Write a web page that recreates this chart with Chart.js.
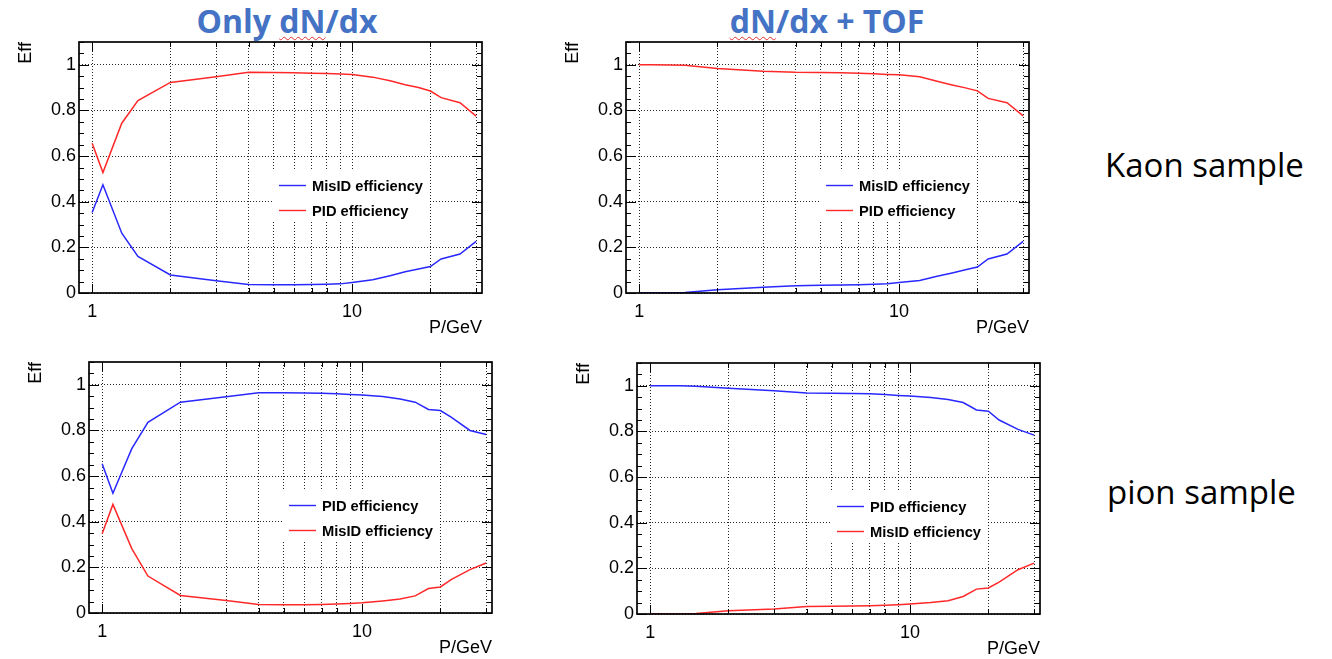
<!DOCTYPE html>
<html><head><meta charset="utf-8">
<script src="https://cdn.jsdelivr.net/npm/chart.js@4.4.1/dist/chart.umd.min.js"></script>
<style>
html,body{margin:0;padding:0;background:#fff;}
body{width:1332px;height:659px;overflow:hidden;position:relative;font-family:"Liberation Sans",Arial,sans-serif;}
.panel{position:absolute;width:500px;height:340px;}
.title{position:absolute;font-family:"Open Sans",sans-serif;font-weight:700;font-size:32px;line-height:32px;color:#4472C4;white-space:nowrap;transform:translateX(-50%);}
.spell{text-decoration:underline wavy #e03030;text-decoration-thickness:1px;text-underline-offset:3px;}
.side{position:absolute;font-family:"Open Sans",sans-serif;font-size:33px;line-height:33px;color:#000;white-space:nowrap;}
</style></head>
<body>
<div class="title" style="left:287px;top:5px;">Only <span class="spell">dN</span>/dx</div>
<div class="title" style="left:827px;top:5px;"><span class="spell">dN</span>/dx + TOF</div>
<div class="side" style="left:1105px;top:148px;">Kaon sample</div>
<div class="side" style="left:1107px;top:475px;">pion sample</div>
<div class="panel" style="left:0px;top:0px;"><canvas id="c1" width="500" height="340"></canvas></div>
<div class="panel" style="left:547px;top:0px;"><canvas id="c2" width="500" height="340"></canvas></div>
<div class="panel" style="left:10px;top:320px;"><canvas id="c3" width="500" height="340"></canvas></div>
<div class="panel" style="left:558px;top:321px;"><canvas id="c4" width="500" height="340"></canvas></div>
<script>
// ---- data ----
const momentum = [1, 1.1, 1.3, 1.5, 2, 3, 4, 5, 6, 7, 8, 9, 10, 12, 14, 16, 18, 20, 22, 26, 30];

const kaonDedxMisID = [0.353, 0.474, 0.262, 0.160, 0.079, 0.054, 0.037, 0.036, 0.036, 0.037, 0.038, 0.040, 0.046, 0.058, 0.076, 0.093, 0.105, 0.116, 0.149, 0.171, 0.226];
const kaonDedxPID   = [0.656, 0.528, 0.744, 0.843, 0.923, 0.948, 0.967, 0.966, 0.965, 0.963, 0.962, 0.960, 0.958, 0.946, 0.930, 0.913, 0.901, 0.885, 0.856, 0.834, 0.775];

const kaonTofMisID  = [0.001, 0.001, 0.001, 0.002, 0.014, 0.025, 0.032, 0.034, 0.035, 0.036, 0.038, 0.041, 0.046, 0.055, 0.073, 0.088, 0.102, 0.114, 0.149, 0.171, 0.226];
const kaonTofPID    = [1.000, 1.000, 0.999, 0.998, 0.984, 0.972, 0.967, 0.966, 0.965, 0.963, 0.961, 0.958, 0.956, 0.948, 0.928, 0.912, 0.899, 0.886, 0.853, 0.834, 0.776];

const pionDedxPID   = [0.654, 0.525, 0.720, 0.836, 0.924, 0.948, 0.965, 0.965, 0.964, 0.963, 0.961, 0.958, 0.955, 0.949, 0.938, 0.924, 0.892, 0.887, 0.858, 0.800, 0.782];
const pionDedxMisID = [0.347, 0.476, 0.282, 0.162, 0.077, 0.055, 0.037, 0.036, 0.036, 0.037, 0.039, 0.042, 0.045, 0.053, 0.061, 0.075, 0.107, 0.114, 0.146, 0.190, 0.219];

const pionTofPID    = [1.000, 1.000, 1.000, 0.998, 0.989, 0.978, 0.969, 0.967, 0.966, 0.965, 0.962, 0.958, 0.955, 0.949, 0.940, 0.927, 0.894, 0.889, 0.850, 0.809, 0.784];
const pionTofMisID  = [0.000, 0.000, 0.000, 0.002, 0.014, 0.022, 0.033, 0.034, 0.035, 0.036, 0.038, 0.041, 0.044, 0.050, 0.058, 0.077, 0.109, 0.114, 0.140, 0.194, 0.223];

const xTickValues = [1, 2, 3, 4, 5, 6, 7, 8, 9, 10, 20, 30];
const xTickLabels = ['1', '', '', '', '', '', '', '', '', '10', '', ''];
const yTickValues = [0, 0.2, 0.4, 0.6, 0.8, 1.0];
const yTickLabels = ['0', '0.2', '0.4', '0.6', '0.8', '1'];

// ---- style ----
const FONT = '"Liberation Sans", Arial, Helvetica, sans-serif';
const BLUE = 'rgb(40,40,255)';
const RED = 'rgb(255,40,40)';

const rootStyle = {
  id: 'rootStyle',
  beforeDatasetsDraw(chart) {
    const {ctx, chartArea: a} = chart;
    const lx = a.left + 194, ly = a.top + 128;
    ctx.save();
    ctx.fillStyle = '#fff';
    ctx.fillRect(lx, ly, 156, 50);
    chart.data.datasets.forEach((ds, i) => {
      const y = Math.round(ly + 15 + i * 24.5) + 0.5;
      ctx.strokeStyle = ds.borderColor;
      ctx.lineWidth = 1.4;
      ctx.beginPath(); ctx.moveTo(lx + 6, y); ctx.lineTo(lx + 33, y); ctx.stroke();
      ctx.fillStyle = '#000';
      ctx.font = 'bold 14.7px ' + FONT;
      ctx.textBaseline = 'middle';
      ctx.textAlign = 'left';
      ctx.fillText(ds.label, lx + 39, y + 1);
    });
    ctx.restore();
  },
  afterDraw(chart) {
    const {ctx, chartArea: a, scales} = chart;
    ctx.save();
    ctx.strokeStyle = '#000';
    ctx.lineWidth = 1;
    ctx.beginPath();
    const ys = scales.y;
    for (let k = 0; k <= 22; k++) {
      const v = k * 0.05;
      const py = Math.round(ys.getPixelForValue(v)) + 0.5;
      const len = (k % 4 === 0) ? 10 : 5;
      ctx.moveTo(a.left, py); ctx.lineTo(a.left + len, py);
      ctx.moveTo(a.right, py); ctx.lineTo(a.right - len, py);
    }
    const xs = scales.x;
    xTickValues.forEach((v, i) => {
      const px = Math.round(xs.getPixelForValue(v)) + 0.5;
      const len = xTickLabels[i] ? 9 : 5;
      ctx.moveTo(px, a.bottom); ctx.lineTo(px, a.bottom - len);
      ctx.moveTo(px, a.top); ctx.lineTo(px, a.top + len);
    });
    ctx.stroke();
    ctx.lineWidth = 1.7;
    ctx.strokeRect(a.left, a.top, a.right - a.left, a.bottom - a.top);
    ctx.restore();
  }
};

function series(values, label, color) {
  return {
    label: label,
    data: momentum.map((p, i) => ({x: p, y: values[i]})),
    borderColor: color,
    backgroundColor: color,
    borderWidth: 1.5,
    pointRadius: 0,
    tension: 0,
    fill: false
  };
}

function makeChart(id, blueVals, blueLabel, redVals, redLabel) {
  return new Chart(document.getElementById(id), {
    type: 'line',
    data: { datasets: [series(blueVals, blueLabel, BLUE), series(redVals, redLabel, RED)] },
    options: {
      responsive: false,
      animation: false,
      devicePixelRatio: 1,
      layout: { padding: { top: 42, right: 18, left: 0, bottom: 0 } },
      plugins: { legend: { display: false }, tooltip: { enabled: false } },
      scales: {
        x: {
          type: 'logarithmic',
          min: 0.89, max: 31.6,
          afterBuildTicks: s => { s.ticks = xTickValues.map(v => ({ value: v })); },
          afterFit: s => { s.height = 47; },
          ticks: {
            autoSkip: false, maxRotation: 0, padding: 8, color: '#000',
            font: { family: FONT, size: 18 },
            callback: (v, i) => xTickLabels[i]
          },
          grid: { color: 'rgba(0,0,0,0.85)', lineWidth: 1, drawTicks: false },
          border: { display: false, dash: [1, 2] },
          title: { display: true, text: 'P/GeV', align: 'end', color: '#000',
                   font: { family: FONT, size: 18 }, padding: { top: 0, bottom: 1 } }
        },
        y: {
          min: 0, max: 1.1,
          afterBuildTicks: s => { s.ticks = yTickValues.map(v => ({ value: v })); },
          afterFit: s => { s.width = 79; },
          ticks: {
            padding: 3, color: '#000',
            font: { family: FONT, size: 18 },
            callback: (v, i) => yTickLabels[i]
          },
          grid: { color: 'rgba(0,0,0,0.85)', lineWidth: 1, drawTicks: false },
          border: { display: false, dash: [1, 2] },
          title: { display: true, text: 'Eff', align: 'end', color: '#000',
                   font: { family: FONT, size: 18 }, padding: { top: 15, bottom: 0 } }
        }
      }
    },
    plugins: [rootStyle]
  });
}

makeChart('c1', kaonDedxMisID, 'MisID efficiency', kaonDedxPID, 'PID efficiency');
makeChart('c2', kaonTofMisID, 'MisID efficiency', kaonTofPID, 'PID efficiency');
makeChart('c3', pionDedxPID, 'PID efficiency', pionDedxMisID, 'MisID efficiency');
makeChart('c4', pionTofPID, 'PID efficiency', pionTofMisID, 'MisID efficiency');
</script>
</body></html>
